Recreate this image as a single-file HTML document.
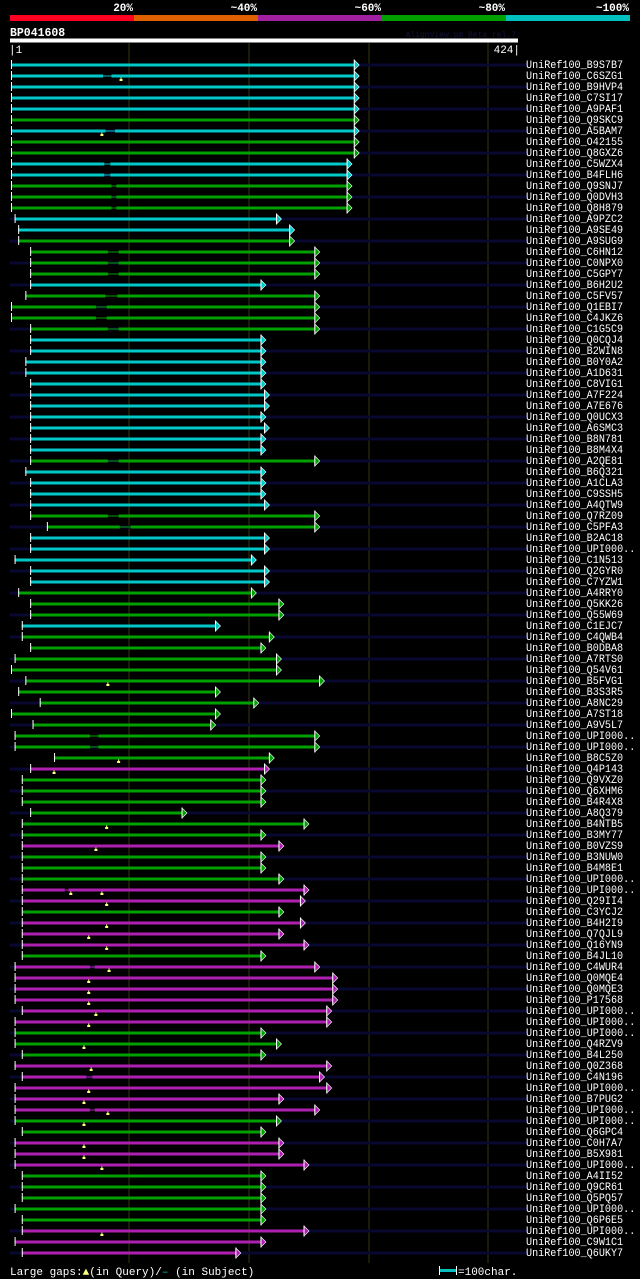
<!DOCTYPE html>
<html><head><meta charset="utf-8"><style>
html,body{margin:0;padding:0;background:#000;}
svg{display:block;}
text{font-family:"Liberation Mono","DejaVu Sans Mono",monospace;}
</style></head><body>
<svg id="chart" width="640" height="1279" viewBox="0 0 640 1279" xmlns="http://www.w3.org/2000/svg">
<rect x="0" y="0" width="640" height="1279" fill="#000"/>
<g>
<rect x="10" y="15" width="124" height="6" fill="#ff0020"/>
<rect x="134" y="15" width="124" height="6" fill="#e06000"/>
<rect x="258" y="15" width="124" height="6" fill="#a020a0"/>
<rect x="382" y="15" width="124" height="6" fill="#00a000"/>
<rect x="506" y="15" width="124" height="6" fill="#00c0c0"/>
<g font-size="11" font-weight="bold" fill="#fff" text-anchor="end">
<text x="133" y="11">20%</text>
<text x="257" y="11">~40%</text>
<text x="381" y="11">~60%</text>
<text x="505" y="11">~80%</text>
<text x="629" y="11">~100%</text>
</g></g>
<text x="10" y="36" font-size="11.5" font-weight="bold" fill="#fff">BP041608</text>
<text x="516" y="37" font-size="8" fill="#14143c" text-anchor="end">AlignView.pm Beta rel.7</text>
<rect x="10" y="38.5" width="508" height="4" fill="#fff"/>
<text x="9" y="53" font-size="11" fill="#fff">|1</text>
<text x="520" y="53" font-size="11" fill="#fff" text-anchor="end">424|</text>
<g id="grid"></g>
<g id="rows"></g>
<g>
<text x="10" y="1275" font-size="11" fill="#fff">Large gaps:<tspan fill="#ffff80">▲</tspan>(in Query)/<tspan fill="#00c0c0">–</tspan> (in Subject)</text>
<rect x="439" y="1269" width="17" height="3" fill="#00c0c0"/>
<rect x="439" y="1266" width="1" height="9" fill="#fff"/>
<rect x="456" y="1266" width="1" height="9" fill="#fff"/>
<text x="458" y="1275" font-size="11" fill="#fff">=100char.</text>
</g>
</svg>
<script>
const labels = ["B9S7B7","C6SZG1","B9HVP4","C7SI17","A9PAF1","Q9SKC9","A5BAM7","O42155","Q8GXZ6","C5WZX4","B4FLH6","Q9SNJ7","Q0DVH3","Q8H879","A9PZC2","A9SE49","A9SUG9","C6HN12","C0NPX0","C5GPY7","B6H2U2","C5FV57","Q1EBI7","C4JKZ6","C1G5C9","Q0CQJ4","B2WIN8","B0Y0A2","A1D631","C8VIG1","A7F224","A7E676","Q0UCX3","A6SMC3","B8N781","B8M4X4","A2QE81","B6Q321","A1CLA3","C9SSH5","A4QTW9","Q7RZ09","C5PFA3","B2AC18","UPI000..","C1N513","Q2GYR0","C7YZW1","A4RRY0","Q5KK26","Q55W69","C1EJC7","C4QWB4","B0DBA8","A7RTS0","Q54V61","B5FVG1","B3S3R5","A8NC29","A7ST18","A9V5L7","UPI000..","UPI000..","B8C5Z0","Q4P143","Q9VXZ0","Q6XHM6","B4R4X8","A8Q379","B4NTB5","B3MY77","B0VZS9","B3NUW0","B4M8E1","UPI000..","UPI000..","Q29II4","C3YCJ2","B4H2I9","Q7QJL9","Q16YN9","B4JL10","C4WUR4","Q0MQE4","Q0MQE3","P17568","UPI000..","UPI000..","UPI000..","Q4RZV9","B4L250","Q0Z368","C4N196","UPI000..","B7PUG2","UPI000..","UPI000..","Q6GPC4","C0H7A7","B5X981","UPI000..","A4II52","Q9CR61","Q5PQ57","UPI000..","Q6P6E5","UPI000..","C9W1C1","Q6UKY7"];
const starts = [1,1,1,1,1,1,1,1,1,1,1,1,1,1,4,7,7,17,17,17,17,13,1,1,17,17,17,13,13,17,17,17,17,17,17,17,17,13,17,17,17,17,31,17,17,4,17,17,7,17,17,10,10,17,4,1,13,7,25,1,19,4,4,37,17,10,10,10,17,10,10,10,10,10,10,10,10,10,10,10,10,10,4,4,4,4,10,4,4,4,10,4,10,4,4,4,4,10,4,4,4,10,10,10,4,10,10,4,10];
const ends = [288,288,288,288,288,288,288,288,288,282,282,282,282,282,223,234,234,255,255,255,210,255,255,255,255,210,210,210,210,210,213,213,210,213,210,210,255,210,210,210,213,255,255,213,213,202,213,213,202,225,225,172,217,210,223,223,259,172,204,172,168,255,255,217,213,210,210,210,144,246,210,225,210,210,225,246,243,225,243,225,246,210,255,270,270,270,265,265,210,223,210,265,259,265,225,255,223,210,225,225,246,210,210,210,210,210,246,210,189];
const colorCodes = "cccccgcggccgggccggggcggggcccccccccccgccccggcccccgggcggggggggggggmggggggmgggmmgmmmgmmmmmmgggmmmmmggmmmgggggmmm";
const queryGapRows = [2,7,57,64,65,70,72,76,76,77,79,80,81,83,84,85,86,87,88,90,92,94,95,96,97,99,100,101,107];
const queryGapPos = [93,77,82,91,37,81,72,51,77,81,81,66,81,83,66,66,66,72,66,62,68,66,62,82,62,62,62,77,77];
const subjGapRows = [2,7,10,11,12,13,14,18,19,20,25,22,23,24,37,42,43,62,63,76,83,96,93];
const subjGapFrom = [78,80,79,79,85,85,85,82,82,82,82,80,72,72,82,82,92,67,67,46,67,67,64];
const subjGapTo = [85,88,84,84,89,89,89,91,91,91,91,90,81,81,91,91,101,74,74,49,71,71,69];
const gridTicks = [100,200,300,400];

const NS = "http://www.w3.org/2000/svg";
const palette = {c:"#00c8c8", g:"#00a000", m:"#b020b0"};
function xOf(res){ return 11 + (res - 1) * 1.196; }
function yOf(i){ return 65 + i * 11; }
function mk(tag, attrs, parent){
  const e = document.createElementNS(NS, tag);
  for (const k in attrs) e.setAttribute(k, attrs[k]);
  parent.appendChild(e);
  return e;
}
const grid = document.getElementById("grid");
gridTicks.forEach(function(t){
  const l = mk("rect", {x: Math.round(xOf(t)) - 0.5, y: 43, width: 1, height: 1220, fill: "#3a3610"}, grid);
  
  
});
const rowsG = document.getElementById("rows");
labels.forEach(function(lab, i){
  const y = yOf(i);
  const g = mk("g", {}, rowsG);
  
  
  if (i % 2 === 0) mk("rect", {x: 10, y: y - 1.5, width: 517, height: 3, fill: "#080830"}, g);
  const col = palette[colorCodes[i]];
  const x0 = xOf(starts[i]), x1 = xOf(ends[i]);
  const bar = mk("g", {}, g);
  
  
  let segs = [];
  subjGapRows.forEach(function(r, k){ if (r === i + 1) segs.push([xOf(subjGapFrom[k]), xOf(subjGapTo[k])]); });
  let cur = x0;
  segs.forEach(function(s){
    mk("rect", {x: cur, y: y - 1.5, width: s[0] - cur, height: 3, fill: col}, bar);
    mk("rect", {x: s[0], y: y - 0.5, width: s[1] - s[0], height: 1, fill: col}, bar);
    cur = s[1];
  });
  mk("rect", {x: cur, y: y - 1.5, width: x1 - cur, height: 3, fill: col}, bar);
  mk("rect", {x: x0, y: y - 5, width: 1, height: 9, fill: "#fff"}, bar);
  mk("polygon", {points: x1 + "," + (y - 5) + " " + (x1 + 5) + "," + y + " " + x1 + "," + (y + 5), fill: col, stroke: "#fff", "stroke-width": 0.6}, bar);
  mk("rect", {x: x1 - 0.5, y: y - 5.5, width: 1, height: 11, fill: "#fff"}, bar);
  const full = "UniRef100_" + lab;
  const t = mk("text", {x: 526, y: y + 3, "font-size": 11, fill: "#fff", textLength: (full.length * 6.07).toFixed(1), lengthAdjust: "spacingAndGlyphs"}, g);
  t.textContent = full;
  
  
});
queryGapRows.forEach(function(r, k){
  const y = yOf(r - 1), x = xOf(queryGapPos[k]);
  const m = mk("g", {}, rowsG);
  
  
  mk("rect", {x: x - 0.5, y: y + 1.5, width: 1, height: 2, fill: "#ffff80"}, m);
  mk("rect", {x: x - 1.5, y: y + 3, width: 3, height: 2, fill: "#ffff80"}, m);
});
</script>
</body></html>
